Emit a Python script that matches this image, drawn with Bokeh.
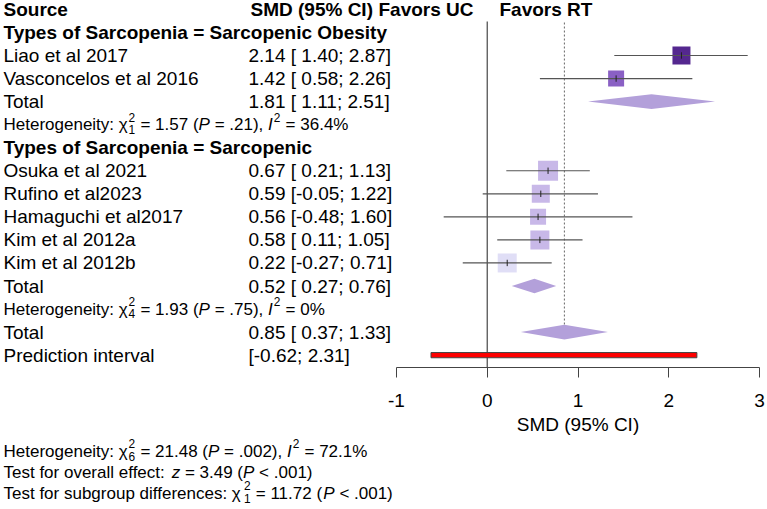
import numpy as np
from bokeh.plotting import figure
from bokeh.models import ColumnDataSource, Range1d, LinearAxis, FixedTicker, Label
from bokeh.core.properties import value
from bokeh.embed import file_html
from bokeh.resources import INLINE

# ---- study-level results ---------------------------------------------------
studies = ["Liao et al 2017", "Vasconcelos et al 2016", "Osuka et al 2021",
           "Rufino et al2023", "Hamaguchi et al2017", "Kim et al 2012a",
           "Kim et al 2012b"]
smd = [2.14, 1.42, 0.67, 0.59, 0.56, 0.58, 0.22]
ci_low = [1.40, 0.58, 0.21, -0.05, -0.48, 0.11, -0.27]
ci_high = [2.87, 2.26, 1.13, 1.22, 1.60, 1.05, 0.71]
study_rows = [2, 3, 7, 8, 9, 10, 11]

# ---- pooled estimates (subgroup totals, overall) ---------------------------
pooled_names = ["Total", "Total", "Total"]
pooled_est = [1.81, 0.52, 0.85]
pooled_low = [1.11, 0.27, 0.37]
pooled_high = [2.51, 0.76, 1.33]
pooled_rows = [4, 12, 14]

pred_low, pred_high = -0.62, 2.31
pred_row = 15

subgroup_titles = ["Types of Sarcopenia = Sarcopenic Obesity",
                   "Types of Sarcopenia = Sarcopenic"]
subgroup_rows = [1, 6]

# heterogeneity per subgroup: df, Q, P, I^2
het_df = ["1", "4"]
het_q = ["1.57", "1.93"]
het_p = [".21", ".75"]
het_i2 = ["36.4%", "0%"]
het_rows = [5, 13]

axis_ticks = [-1, 0, 1, 2, 3]

# ---- styling ---------------------------------------------------------------
box_size = [18, 16, 20, 18, 16, 19, 19]
box_color = ["#54278f", "#8a60c4", "#c8b8e8", "#c8b8e8", "#c8b8e8",
             "#c8b8e8", "#e0def6"]
DIAMOND = "#b3a0da"
FONT = "Liberation Sans"

W, H = 767, 509
PX_PER_UNIT = 90.75
ZERO_PX = 486.75
ROW0_PX = 8.9
ROW_PX = 23.05


def px2x(px):
    return (px - ZERO_PX) / PX_PER_UNIT


def px2row(py):
    return (py - ROW0_PX) / ROW_PX


def baseline(row, size):
    # text anchor that places capitals on the row centre
    return row


p = figure(width=W, height=H,
           x_range=Range1d(px2x(0), px2x(W)),
           y_range=Range1d(px2row(H), px2row(0)),
           output_backend="svg", toolbar_location=None,
           x_axis_location=None, y_axis_location=None,
           min_border=0, outline_line_color=None,
           background_fill_color="white", border_fill_color="white")
p.grid.grid_line_color = None

AXIS_ROW = px2row(367)

# reference lines: no effect and overall estimate
p.segment(x0=[0], y0=[px2row(21)], x1=[0], y1=[AXIS_ROW],
          line_color="#555555", line_width=1.3)
p.segment(x0=[pooled_est[2]], y0=[px2row(22)], x1=[pooled_est[2]],
          y1=[pooled_rows[2] - 7.5 / ROW_PX],
          line_color="#666666", line_width=1, line_dash="2 2")

# confidence intervals and study boxes
src = ColumnDataSource(dict(
    name=studies, est=smd, lo=ci_low, hi=ci_high, row=study_rows,
    size=box_size, color=box_color,
    tick_top=[r - 3.2 / ROW_PX for r in study_rows],
    tick_bot=[r + 3.2 / ROW_PX for r in study_rows],
    label=[f"{m:.2f} [{l:5.2f}; {u:.2f}]" for m, l, u in zip(smd, ci_low, ci_high)],
    ty=[baseline(r, 19) for r in study_rows],
))
p.scatter(x="est", y="row", size="size", marker="square", fill_color="color",
          line_color=None, source=src)
p.segment(x0="lo", y0="row", x1="hi", y1="row", line_color="#555555",
          line_width=1.2, source=src)
p.segment(x0="est", y0="tick_top", x1="est", y1="tick_bot",
          line_color="#222222", line_width=1, source=src)

# pooled diamonds
half_h = 7.3 / ROW_PX
xs = [[l, m, u, m] for l, m, u in zip(pooled_low, pooled_est, pooled_high)]
ys = [[r, r - half_h, r, r + half_h] for r in pooled_rows]
p.patches(xs=xs, ys=ys, fill_color=DIAMOND, line_color=None)

# prediction interval bar
p.quad(left=[pred_low], right=[pred_high],
       top=[pred_row - 2.6 / ROW_PX], bottom=[pred_row + 2.6 / ROW_PX],
       fill_color="#ff0000", line_color="#444444", line_width=1)

# x axis limited to the tick range
ax = LinearAxis(bounds=(axis_ticks[0], axis_ticks[-1]), fixed_location=AXIS_ROW,
                ticker=FixedTicker(ticks=axis_ticks), axis_label="SMD (95% CI)")
ax.axis_line_color = "#444444"
ax.major_tick_line_color = "#444444"
ax.major_tick_out = 10
ax.major_tick_in = 0
ax.minor_tick_out = 0
ax.minor_tick_in = 0
ax.major_label_standoff = 16
ax.major_label_text_font = FONT
ax.major_label_text_font_size = "19px"
ax.major_label_text_color = "black"
ax.axis_label_text_font = FONT
ax.axis_label_text_font_size = "19px"
ax.axis_label_text_font_style = "normal"
ax.axis_label_text_color = "black"
ax.axis_label_standoff = 4
ax.major_label_overrides = {t: str(t) for t in axis_ticks}
p.add_layout(ax, "below")

LEFT_X = px2x(3)
EST_X = px2x(248)

# left-hand text columns
p.text(x=LEFT_X, y="ty", text="name", source=src, text_font=value(FONT),
       text_font_size=value("19px"), text_baseline="alphabetic", text_color="black")
p.text(x=EST_X, y="ty", text="label", source=src, text_font=value(FONT),
       text_font_size=value("19px"), text_baseline="alphabetic", text_color="black")

psrc = ColumnDataSource(dict(
    name=pooled_names + ["Prediction interval"],
    label=[f"{m:.2f} [{l:5.2f}; {u:.2f}]" for m, l, u in
           zip(pooled_est, pooled_low, pooled_high)]
          + [f"[{pred_low:.2f}; {pred_high:.2f}]"],
    ty=[baseline(r, 19) for r in pooled_rows + [pred_row]],
))
p.text(x=LEFT_X, y="ty", text="name", source=psrc, text_font=value(FONT),
       text_font_size=value("19px"), text_baseline="alphabetic", text_color="black")
p.text(x=EST_X, y="ty", text="label", source=psrc, text_font=value(FONT),
       text_font_size=value("19px"), text_baseline="alphabetic", text_color="black")

# bold headers and subgroup titles
hsrc = ColumnDataSource(dict(
    x=[LEFT_X, px2x(250)] + [LEFT_X] * len(subgroup_titles),
    ty=[baseline(0, 19)] * 2 + [baseline(r, 19) for r in subgroup_rows],
    text=["Source", "SMD (95% CI)"] + subgroup_titles,
))
p.text(x="x", y="ty", text="text", source=hsrc, text_font=value(FONT),
       text_font_size=value("19px"), text_font_style="bold",
       text_baseline="alphabetic", text_color="black")
p.text(x=[px2x(473), px2x(499)], y=[baseline(0, 19)] * 2,
       text=["Favors UC", "Favors RT"], text_align=["right", "left"],
       text_font=value(FONT), text_font_size=value("19px"),
       text_font_style="bold", text_baseline="alphabetic", text_color="black")

# ---- statistics lines with italic symbols and stacked indices ----------------
ADV = {" ": 278, "%": 889, "(": 333, ")": 333, ",": 278, ".": 278, ":": 278,
       "<": 584, "=": 584, "H": 722, "I": 278, "P": 667, "T": 611, "a": 556,
       "b": 556, "c": 500, "d": 556, "e": 556, "f": 278, "g": 556, "i": 222,
       "l": 222, "n": 556, "o": 556, "p": 556, "r": 333, "s": 500, "t": 278,
       "u": 556, "v": 500, "y": 500, "z": 500, "χ": 520}


def width(s, size):
    return sum(ADV.get(c, 556) for c in s) / 1000 * size


def put(text, x, y, size, style="normal", dy=0):
    p.add_layout(Label(x=x, y=y, x_units="screen", y_units="data", text=text,
                       y_offset=dy, text_font=FONT, text_font_size=f"{size}px",
                       text_font_style=style, text_baseline="alphabetic",
                       text_color="black"))


def rich(parts, x, row, size):
    y = baseline(row, size)
    small = round(size * 0.7, 1)
    for kind, txt in parts:
        if kind in ("n", "i"):
            lead = len(txt) - len(txt.lstrip(" "))
            body = txt.strip(" ")
            if body:
                put(body, x + width(" " * lead, size), y, size,
                    "italic" if kind == "i" else "normal")
            x += width(txt, size)
        elif kind == "sup":
            put(txt, x + 1, y, small, dy=0.45 * size)
            x += width(txt, small) + 1.5
        elif kind == "ss":
            sup, sub = txt
            put(sup, x + 1, y, small, dy=0.45 * size)
            put(sub, x + 1, y, small, dy=-0.28 * size)
            x += max(width(sup, small), width(sub, small)) + 1.5


STAT = 17
for df, q, pv, i2, r in zip(het_df, het_q, het_p, het_i2, het_rows):
    rich([("n", "Heterogeneity: χ"), ("ss", ("2", df)), ("n", f" = {q} ("),
          ("i", "P"), ("n", f" = {pv}), "), ("i", "I"), ("sup", "2"),
          ("n", f" = {i2}")], 3, r, STAT)

rich([("n", "Heterogeneity: χ"), ("ss", ("2", "6")), ("n", " = 21.48 ("),
      ("i", "P"), ("n", " = .002), "), ("i", "I"), ("sup", "2"),
      ("n", " = 72.1%")], 3, px2row(451), STAT)
rich([("n", "Test for overall effect: "), ("i", "z"), ("n", " = 3.49 ("),
      ("i", "P"), ("n", " < .001)")], 3, px2row(472), STAT)
rich([("n", "Test for subgroup differences: χ"), ("ss", ("2", "1")),
      ("n", " = 11.72 ("), ("i", "P"), ("n", " < .001)")], 3, px2row(493), STAT)

open("out.html", "w").write(file_html(p, INLINE))
